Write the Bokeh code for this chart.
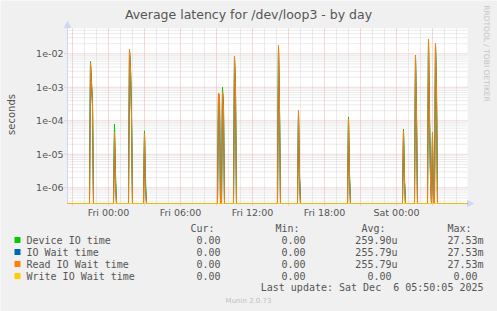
import numpy as np
from bokeh.plotting import figure
from bokeh.models import Range1d, LinearScale
from bokeh.core.properties import value
from bokeh.embed import file_html
from bokeh.resources import INLINE

# ---------------- data ----------------
# time in hours relative to Fri 00:00, 5-minute samples
x_start_h = -3.4167
x_end_h = 29.9167
step_h = 5 / 60
y_min = 10 ** -6.47
y_max = 10 ** -1.245

spike_hours = [-1.5, 0.54, 1.75, 3.0, 9.17, 9.5, 10.5, 14.17, 15.83, 20.0,
               24.58, 25.58, 26.67, 27.0, 27.25]
device_vals = [[5.9e-3, 1.5e-3, 4e-4], [7.9e-5, 3e-6], [1.2e-2, 4e-3, 2e-4], [5e-5, 2e-6],
               [6e-4, 5e-4], [1e-3, 3e-4], [7.5e-3, 1e-3], [1.6e-2, 3e-4],
               [1.8e-4, 3e-6], [1.3e-4, 3e-6], [5.6e-5, 2e-6], [8e-3, 2e-4],
               [2.753e-2, 2e-4, 3e-6], [3e-5], [1.9e-2, 1e-3]]
read_vals = [[5.2e-3, 1.2e-3, 3e-4], [4.5e-5, 1.5e-6], [1.35e-2, 3.5e-3, 1.5e-4], [4.2e-5, 1e-6],
             [6.7e-4, 5.5e-4], [7.5e-4, 2.5e-4], [8.3e-3, 8e-4], [1.78e-2, 2.5e-4],
             [2e-4, 2e-6], [1.15e-4, 2e-6], [5e-5, 1.5e-6], [8.9e-3, 1.5e-4],
             [2.753e-2, 1e-4, 2e-6], [4.5e-5], [2e-2, 8e-4]]
iowait_vals = [[5.2e-3, 1.2e-3, 3e-4], [4.5e-5, 1.5e-6], [1.35e-2, 3.5e-3, 1.5e-4], [4.2e-5, 1e-6],
               [6.7e-4, 5.5e-4], [7.5e-4, 2.5e-4], [8.3e-3, 8e-4], [1.78e-2, 2.5e-4],
               [2e-4, 2e-6], [1.15e-4, 2e-6], [5e-5, 1.5e-6], [8.9e-3, 1.5e-4],
               [2.753e-2, 1e-4, 2e-6], [4.5e-5], [2e-2, 8e-4]]
write_vals = [[0.0, 0.0] for _ in spike_hours]

x_tick_hours = [0, 6, 12, 18, 24]
x_tick_labels = ["Fri 00:00", "Fri 06:00", "Fri 12:00", "Fri 18:00", "Sat 00:00"]
y_decades = [1e-6, 1e-5, 1e-4, 1e-3, 1e-2]
y_tick_labels = ["1e-06", "1e-05", "1e-04", "1e-03", "1e-02"]

legend_names = ["Device IO time", "IO Wait time", "Read IO Wait time", "Write IO Wait time"]
legend_colors = ["#00CC00", "#0066B3", "#FF8000", "#FFCC00"]
col_headers = ["Cur:", "Min:", "Avg:", "Max:"]
cur_vals = ["0.00", "0.00", "0.00", "0.00"]
min_vals = ["0.00", "0.00", "0.00", "0.00"]
avg_vals = ["259.90u", "255.79u", "255.79u", "0.00"]
max_vals = ["27.53m", "27.53m", "27.53m", "0.00"]

title = "Average latency for /dev/loop3 - by day"
y_label = "seconds"
side_text = "RRDTOOL / TOBI OETIKER"
last_update = "Last update: Sat Dec \u00a06 05:50:05 2025"
footer = "Munin 2.0.73"
# --------------------------------------

W, H = 497, 311
FL, FR, FT, FB = 67, 467, 28, 203           # plot area in canvas px
px_per_h = (FR - FL) / (x_end_h - x_start_h)
dec_px = (FB - FT) / (np.log10(y_max) - np.log10(y_min))

# data ranges extended so that the plot area lands on FL..FR / FT..FB
xr = Range1d(x_start_h - FL / px_per_h, x_end_h + (W - FR) / px_per_h)
yr = Range1d(10 ** (np.log10(y_min) - (H - FB) / dec_px), 10 ** (np.log10(y_max) + FT / dec_px))

p = figure(width=W, height=H, x_range=xr, y_range=yr, y_axis_type="log",
           x_axis_location=None, y_axis_location=None,
           output_backend="svg", toolbar_location=None,
           min_border=0, background_fill_color="#F0F0F0",
           border_fill_color="#F0F0F0", outline_line_color=None)
p.xgrid.visible = False
p.ygrid.visible = False
p.extra_x_ranges = {"px": Range1d(0, W)}
p.extra_y_ranges = {"px": Range1d(H, 0)}
p.extra_x_scales = {"px": LinearScale()}
p.extra_y_scales = {"px": LinearScale()}

# plot area
p.quad(left=[x_start_h], right=[x_end_h], bottom=[y_min], top=[y_max],
       fill_color="white", line_color=None)

# grid
gcol_minor = "#d6d6d6"
gcol_major = "#eab0b0"
major_x = [h for h in range(-3, 30, 3)]
minor_x = [h for h in range(-3, 30) if h % 3 != 0]
minor_y = []
for k in range(-7, -1):
    for m in range(2, 10):
        v = m * 10.0 ** k
        if y_min < v < y_max:
            minor_y.append(v)

p.segment(x0=minor_x, x1=minor_x, y0=[FT] * len(minor_x), y1=[FB] * len(minor_x),
          y_range_name="px", line_color=gcol_minor, line_dash="1 1", line_width=1)
p.segment(x0=[FL] * len(minor_y), x1=[FR] * len(minor_y), y0=minor_y, y1=minor_y,
          x_range_name="px", line_color=gcol_minor, line_dash="1 1", line_width=1)
p.segment(x0=major_x, x1=major_x, y0=[FT] * len(major_x), y1=[FB + 3] * len(major_x),
          y_range_name="px", line_color=gcol_major, line_dash="1 1", line_width=1)
p.segment(x0=[FL - 3] * len(y_decades), x1=[FR] * len(y_decades), y0=y_decades, y1=y_decades,
          x_range_name="px", line_color=gcol_major, line_dash="1 1", line_width=1)

# axes + arrows
axis_col = "#CFD6F8"
p.segment(x0=[FL, FL], x1=[FL, FR + 3], y0=[FB, FB], y1=[FT - 4, FB],
          x_range_name="px", y_range_name="px", line_color=axis_col, line_width=1)
p.patch(x=[FR, FR, FR + 6], y=[FB - 3, FB + 3, FB], x_range_name="px", y_range_name="px",
        fill_color=axis_col, line_color=axis_col)
p.patch(x=[FL - 3, FL + 3, FL], y=[FT - 1, FT - 1, FT - 7], x_range_name="px", y_range_name="px",
        fill_color=axis_col, line_color=axis_col)

# series (munin draw order)
n = int(round((x_end_h - x_start_h) / step_h)) + 1
t = x_start_h + np.arange(n) * step_h


def build(vals):
    arr = np.zeros(n)
    for h, v in zip(spike_hours, vals):
        i0 = int(round((h - x_start_h) / step_h))
        arr[i0:i0 + len(v)] = v
    return np.where(arr > 0, arr, y_min)


for vals, col in ((device_vals, legend_colors[0]), (iowait_vals, legend_colors[1]),
                  (read_vals, legend_colors[2]), (write_vals, legend_colors[3])):
    p.line(t, build(vals), line_color=col, line_width=1)

TXT = "#555555"


def txt(xs, ys, texts, size="10px", font="DejaVu Sans", align="left", color=TXT, angle=0.0,
        xpx=True, ypx=True):
    kw = {}
    if xpx:
        kw["x_range_name"] = "px"
    if ypx:
        kw["y_range_name"] = "px"
    p.text(x=xs, y=ys, text=texts, text_font=value(font), text_font_size=value(size),
           text_align=align, text_baseline="middle", text_color=color, angle=angle, **kw)


# tick labels
txt(x_tick_hours, [212] * len(x_tick_hours), x_tick_labels, size="9.5px", align="center", xpx=False)
txt([FL - 4] * len(y_decades), y_decades, y_tick_labels, size="9.5px", align="right", ypx=False)

txt([248], [14], [title], size="12.5px", align="center")
txt([11], [114], [y_label], size="10px", align="center", angle=np.pi / 2)
txt([486], [53], [side_text], size="7.5px", align="center", color="#c4c4c4", angle=-np.pi / 2)

# legend
mono = "DejaVu Sans Mono"
cw = 6.02
col_right = [226, 311, 397, 483]
row_y = [239.5, 251.5, 263.5, 275.5]
txt([c - 12 for c in col_right], [228] * 4, col_headers, font=mono, align="right")
p.quad(left=[14] * 4, right=[20] * 4, top=[y - 3 for y in row_y], bottom=[y + 3 for y in row_y],
       x_range_name="px", y_range_name="px", fill_color=legend_colors, line_color=None)
txt([26] * 4, row_y, legend_names, font=mono)
for vals, cr in zip((cur_vals, min_vals, avg_vals, max_vals), col_right):
    xs = [cr if s[-1].isalpha() else cr - cw for s in vals]
    txt(xs, row_y, vals, font=mono, align="right")
txt([483], [287.3], [last_update], font=mono, align="right")
txt([248], [300.5], [footer], size="7px", align="center", color="#c0c0c0")

open("out.html", "w").write(file_html(p, INLINE))
